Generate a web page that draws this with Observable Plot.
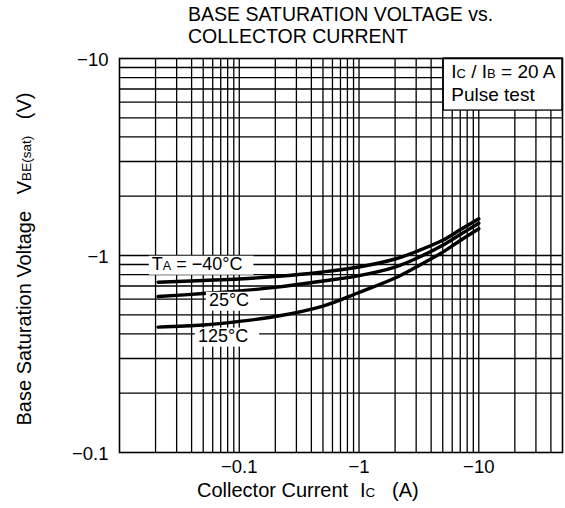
<!DOCTYPE html>
<html><head><meta charset="utf-8">
<script src="https://cdn.jsdelivr.net/npm/d3@7"></script>
<script src="https://cdn.jsdelivr.net/npm/@observablehq/plot@0.6"></script>
<style>
body{margin:0;background:#fff;}
svg text{font-family:"Liberation Sans",Arial,Helvetica,sans-serif;}
</style></head><body><div id="chart"></div>
<script>
// Collector current magnitude |Ic| (A)
const currents = [0.021, 0.05, 0.1, 0.2, 0.5, 1, 2, 3, 5, 7, 10];
// |VBE(sat)| (V) per ambient temperature
const vbeM40 = [0.732, 0.747, 0.760, 0.782, 0.825, 0.874, 0.960, 1.047, 1.194, 1.350, 1.535];
const vbe25  = [0.619, 0.641, 0.661, 0.689, 0.742, 0.791, 0.874, 0.965, 1.127, 1.278, 1.459];
const vbe125 = [0.433, 0.444, 0.463, 0.490, 0.554, 0.649, 0.769, 0.874, 1.040, 1.192, 1.368];
const temps = ["-40", "25", "125"];
const xTicks = [0.1, 1, 10];
const yTicks = [0.1, 1, 10];
const xGrid = [0.02,0.03,0.04,0.05,0.06,0.07,0.08,0.09,0.1,0.2,0.3,0.4,0.5,0.6,0.7,0.8,0.9,1,2,3,4,5,6,7,8,9,10,20,30,40];
const yGrid = [0.2,0.3,0.4,0.5,0.6,0.7,0.8,0.9,1,2,3,4,5,6,7,8,9];
const titleLines = ["BASE SATURATION VOLTAGE vs.", "COLLECTOR CURRENT"];
// curve labels: [text, subscript, text], anchored at (current, voltage)
const curveLabels = [
  {parts:["T","A"," = −40°C"], x:0.0188, y:0.842},
  {parts:["25°C"], x:0.0563, y:0.5525},
  {parts:["125°C"], x:0.0456, y:0.3634}
];
// legend box region (current, voltage)
const boxX = [5.1, 50];
const boxY = [5.44, 10];

const series = [vbeM40, vbe25, vbe125];
const data = temps.flatMap((t, k) => currents.map((c, i) => ({ic: c, v: series[k][i], t})));

const chart = Plot.plot({
  width: 565, height: 508,
  marginLeft: 119, marginRight: 3, marginTop: 58, marginBottom: 56,
  x: {type: "log", domain: [0.01, 50]},
  y: {type: "log", domain: [0.1, 10]},
  style: {fontFamily: "Liberation Sans, Arial, Helvetica, sans-serif", fontSize: "18.5px", color: "#000", background: "#fff", overflow: "visible"},
  marks: [
    Plot.ruleX(xGrid, {stroke: "#000", strokeWidth: 1.3}),
    Plot.ruleY(yGrid, {stroke: "#000", strokeWidth: 1.3}),
    Plot.line(data, {x: "ic", y: "v", z: "t", curve: "catmull-rom", stroke: "#000", strokeWidth: 3.4}),
    Plot.rect([0], {x1: () => boxX[0], x2: () => boxX[1], y1: () => boxY[0], y2: () => boxY[1], fill: "#fff", stroke: "#000", strokeWidth: 1.3}),
    Plot.frame({stroke: "#000", strokeWidth: 1.6}),
    Plot.axisX(xTicks, {tickSize: 0, tickPadding: 7, tickFormat: d => "−" + d, label: null}),
    Plot.axisY(yTicks, {tickSize: 0, tickPadding: 11, dy: 2, tickFormat: d => "−" + d, label: null})
  ]
});
document.getElementById("chart").appendChild(chart);

const svg = d3.select(chart);
const sx = chart.scale("x"), sy = chart.scale("y");
const font = "Liberation Sans, Arial, Helvetica, sans-serif";
const txt = (sel) => sel.append("text").attr("text-anchor", "start").attr("font-family", font).attr("fill", "#000").style("white-space", "pre");

// title
txt(svg).attr("x", 188).attr("y", 21).attr("font-size", 19.5).text(titleLines[0]);
txt(svg).attr("x", 188).attr("y", 43).attr("font-size", 19.5).text(titleLines[1]);

// legend text
const lx = sx.apply(boxX[0]) + 8;
const l1 = txt(svg).attr("x", lx).attr("y", 78).attr("font-size", 19);
l1.append("tspan").text("I");
l1.append("tspan").attr("font-size", 13).text("C");
l1.append("tspan").text(" / I");
l1.append("tspan").attr("font-size", 13).text("B");
l1.append("tspan").text(" = 20 A");
txt(svg).attr("x", lx).attr("y", 101).attr("font-size", 19).text("Pulse test");

// curve labels with white background
for (const lab of curveLabels) {
  const g = svg.append("g");
  const t = txt(g).attr("x", sx.apply(lab.x)).attr("y", sy.apply(lab.y)).attr("font-size", 18);
  lab.parts.forEach((p, i) => t.append("tspan").attr("font-size", i === 1 ? 12.5 : null).text(p));
  const b = t.node().getBBox();
  g.insert("rect", "text").attr("x", b.x - 3).attr("y", b.y + 2).attr("width", b.width + 14).attr("height", b.height - 1).attr("fill", "#fff");
}

// x axis title
const xt = txt(svg).attr("y", 497).attr("font-size", 20);
xt.append("tspan").attr("x", 197).text("Collector Current");
xt.append("tspan").attr("x", 360).text("I");
xt.append("tspan").attr("font-size", 13.5).text("C");
xt.append("tspan").attr("x", 392).text("(A)");

// y axis title
const yt = svg.append("text").attr("transform", "translate(31,259) rotate(-90)").attr("text-anchor", "middle").attr("font-size", 20).attr("font-family", font).attr("fill", "#000").style("white-space", "pre");
yt.append("tspan").text("Base Saturation Voltage   V");
yt.append("tspan").attr("font-size", 13.5).text("BE(sat)");
yt.append("tspan").text("   (V)");
</script></body></html>
